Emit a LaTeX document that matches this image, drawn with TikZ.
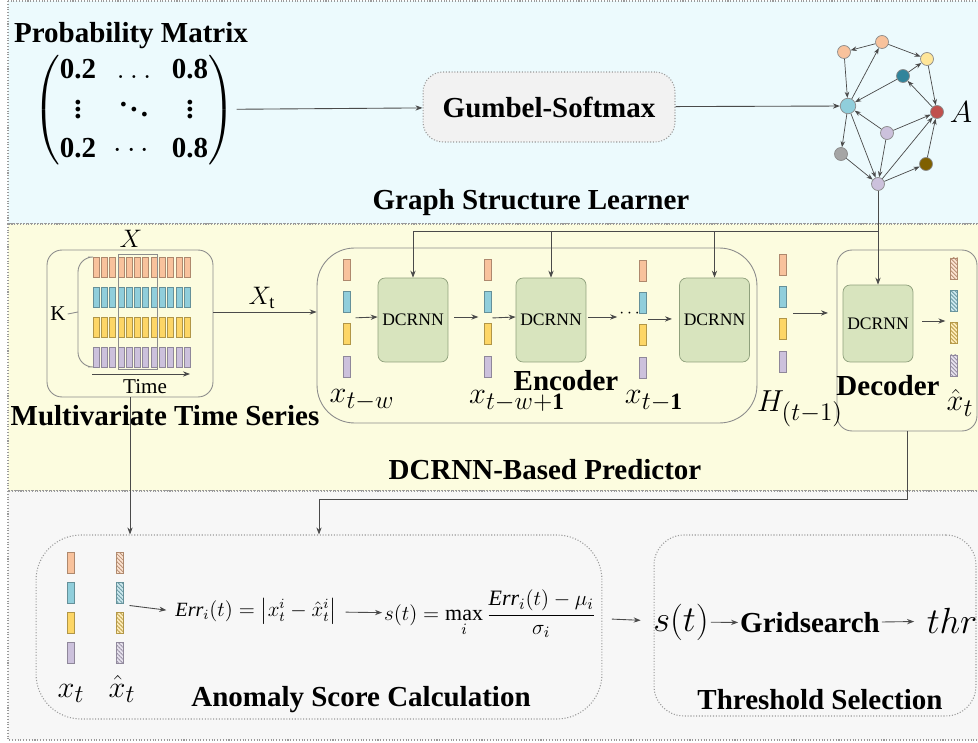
\documentclass[tikz,border=0pt]{standalone}
\usepackage{amsmath}
\usepackage{fontspec}
\setmainfont{Liberation Serif}[BoldFont={Liberation Serif Bold}]
\usetikzlibrary{arrows.meta,patterns.meta}
\definecolor{learnerbg}{HTML}{ECFAFD}
\definecolor{predictbg}{HTML}{FCFCDF}
\definecolor{scorebg}{HTML}{F7F7F7}
\definecolor{panelline}{HTML}{9A9A9A}
\definecolor{linkgray}{HTML}{4A4A4A}
\definecolor{boxline}{HTML}{8C8C8C}
\definecolor{cellfill}{HTML}{D8E4BE}
\definecolor{cellline}{HTML}{8FA07C}
\definecolor{gumbelfill}{HTML}{F2F2F2}
\definecolor{barpeach}{HTML}{F8C29C}
\definecolor{barblue}{HTML}{90CEDB}
\definecolor{baryellow}{HTML}{FDD666}
\definecolor{barpurple}{HTML}{CCC1DC}
\definecolor{gteal}{HTML}{31849B}
\definecolor{gred}{HTML}{C0504D}
\definecolor{gyellow}{HTML}{FFE699}
\definecolor{ggray}{HTML}{A5A5A5}
\definecolor{gbrown}{HTML}{7F6000}
% one column of four feature bars: style, name, centre x, top y, pitch
\newcommand{\barstack}[5]{%
  \foreach \c [count=\i from 0] in {barpeach,barblue,baryellow,barpurple}
    \draw[#1=\c] ({#3-3.5},{#4+#5*\i}) rectangle ++(7,21);
  \coordinate (#2) at (#3,{#4+1.5*#5+10.5});}

\begin{document}
\begin{tikzpicture}[
  x=0.02cm,
  y=-0.02cm,
  every node/.style={inner sep=1pt, text=black},
  panel/.style={draw=panelline, densely dotted, line width=0.6pt},
  paneltitle/.style={font=\fontsize{16.5}{19}\selectfont\bfseries},
  bigmath/.style={font=\fontsize{19}{22}\selectfont},
  midmath/.style={font=\fontsize{15}{18}\selectfont},
  formula/.style={font=\fontsize{12.5}{15}\selectfont},
  small/.style={font=\fontsize{12}{14}\selectfont},
  link/.style={draw=linkgray, line width=0.5pt, -{Stealth[length=4pt,width=3pt]}},
  gedge/.style={draw=linkgray, line width=0.4pt, -{Stealth[length=3.5pt,width=2.6pt]}},
  roundbox/.style={draw=boxline, line width=0.5pt, inner sep=0pt},
  dotbox/.style={draw=panelline, densely dotted, line width=0.6pt, inner sep=0pt},
  cell/.style={draw=cellline, fill=cellfill, rounded corners=0.14cm,
    minimum width=1.4cm, inner sep=0pt, font=\fontsize{10}{12}\selectfont},
  gnode/.style={circle, draw=boxline, line width=0.4pt, inner sep=0pt},
  bar/.style={draw=#1!70!black, fill=#1, line width=0.4pt},
  hatch/.style={draw=#1!70!black, fill=#1!45!white, line width=0.4pt,
    postaction={pattern={Lines[angle=-45,distance=1.6pt,line width=0.5pt]},
      pattern color=#1!75!black}}
]
\useasboundingbox (0,0) rectangle (978,743);

% =====================================================================
% panels
% =====================================================================
\draw[panel, fill=learnerbg] (8,1) rectangle (990,224);
\draw[panel, fill=predictbg] (8,224) rectangle (990,491);
\draw[panel, fill=scorebg] (8,491) rectangle (990,740);

% =====================================================================
% graph structure learner
% =====================================================================
\node[paneltitle] (ptitle) at (131,36) {Probability Matrix};
\node[font=\fontsize{16.5}{22}\selectfont\bfseries] (pm) at (134,110)
  {\setlength{\arraycolsep}{5pt}$\begin{pmatrix}
    \textbf{0.2} & \ldots & \textbf{0.8}\\
    \vdots & \ddots & \vdots\\
    \textbf{0.2} & \cdots & \textbf{0.8}
  \end{pmatrix}$};
\node[dotbox, fill=gumbelfill, rounded corners=0.4cm, minimum width=5.04cm,
  minimum height=1.4cm, paneltitle] (gumbel) at (549,107) {Gumbel-Softmax};

\foreach \n/\x/\y/\c/\s in {pa/882/42/barpeach/0.26, pb/844/52/barpeach/0.26,
    ye/927/59/gyellow/0.26, te/903/76/gteal/0.26, lb/848/106/barblue/0.31,
    re/937/112/gred/0.26, la/887/133/barpurple/0.26, gr/841/154/ggray/0.26,
    br/926/164/gbrown/0.26, lc/878/184/barpurple/0.26}
  \node[gnode, fill=\c, minimum size=\s cm] (\n) at (\x,\y) {};
\foreach \a/\b in {pa/pb, pa/ye, te/ye, lb/pa, pb/lb, te/lb, re/te, ye/re,
    la/lb, la/re, lb/gr, lb/lc, la/lc, gr/lc, lc/re, lc/br, br/re}
  \draw[gedge] (\a) -- (\b);
\node[bigmath] (adj) at (961,112) {$A$};

\draw[link] (pm) -- (gumbel);
\draw[link] (gumbel) -- (lb);
\node[paneltitle] (gsl) at (531,203) {Graph Structure Learner};

% =====================================================================
% DCRNN-based predictor
% =====================================================================
\node[roundbox, rounded corners=0.3cm, minimum width=3.32cm,
  minimum height=2.94cm] (ts) at (130,323.5) {};
\foreach \c [count=\r from 0] in {barpeach,barblue,baryellow,barpurple}
  \foreach \k in {0,...,11}
    \draw[bar=\c] ({93+8.3*\k},{257+30*\r}) rectangle ++(6,20);
\draw[boxline, line width=0.5pt] (118,254) rectangle (157,369);
\draw[boxline, line width=0.5pt, rounded corners=0.3cm]
  (88,257) -- (78,257) -- (78,367) -- (88,367);
\node[small] (k) at (58,314) {K};
\coordinate (kb) at (78,312);
\draw[boxline, line width=0.5pt] (k.east) -- (kb);
\coordinate (t0) at (92,374);
\coordinate (t1) at (190,374);
\draw[link] (t0) -- (t1);
\node[small] (time) at (145,387) {Time};
\node[midmath] (xall) at (131,239) {$X$};
\node[paneltitle] (mts) at (165,416) {Multivariate Time Series};

\node[roundbox, rounded corners=0.75cm, minimum width=8.8cm,
  minimum height=3.5cm] (enc) at (537,335.5) {};
\node[roundbox, rounded corners=0.3cm, minimum width=2.8cm,
  minimum height=3.62cm] (dec) at (907,340.5) {};

\node[cell, minimum height=1.68cm] (d1) at (413,320) {DCRNN};
\node[cell, minimum height=1.68cm] (d2) at (551,320) {DCRNN};
\node[cell, minimum height=1.68cm] (d3) at (714.5,320) {DCRNN};
\node[cell, minimum height=1.54cm] (dd) at (878,323.5) {DCRNN};

\barstack{bar}{c1}{347}{259}{32.3}
\barstack{bar}{c2}{487.5}{259}{32.3}
\barstack{bar}{c3}{643}{260}{32.3}
\barstack{bar}{ch}{783}{254}{32.3}
\barstack{hatch}{co}{954}{258}{32.3}

\coordinate (xin) at (0,312);
\draw[link] (ts.east |- xin) -- (enc.west |- xin);
\node[midmath] (xt) at (262,298) {$X_{\mathrm{t}}$};

\draw[link, shorten <=2pt] (c1) ++(5,0) -- (d1.west |- 0,317);
\draw[link] (d1.east |- 0,317) ++(6,0) -- ++(24,0);
\draw[link] (c2) ++(5,0) -- (d2.west |- 0,317);
\node (dots) at (631,314) {$\cdots$};
\draw[link] (d2.east |- 0,317) ++(2,0) -- (dots.west |- 0,317);
\draw[link] (c3) ++(5,0) -- ++(24,0);
\draw[link] (ch) ++(10,0) -- ++(35,0);
\draw[link] (dd.east |- 0,321) ++(9,0) -- ++(23,0);

\coordinate (bus) at (878,231);
\draw[link] (lc) -- (dd.north);
\foreach \n in {d1,d2,d3}
  \draw[link] (bus) -| (\n.north);

\node[bigmath, anchor=base] (lw) at (362,403) {$x_{t-w}$};
\node[bigmath, anchor=base] (lw1) at (517,404) {$x_{t-w+\mathbf{1}}$};
\node[bigmath, anchor=base] (l1) at (654,404) {$x_{t-\mathbf{1}}$};
\node[bigmath, anchor=base] (lh) at (800,412) {$H_{(t-1)}$};
\node[bigmath] (lhat) at (960,403) {$\hat{x}_t$};
\node[paneltitle] (enctitle) at (566,381) {Encoder};
\node[paneltitle] (dectitle) at (888,386) {Decoder};
\node[paneltitle] (dbp) at (545,470) {DCRNN-Based Predictor};

% =====================================================================
% anomaly score and threshold
% =====================================================================
\node[dotbox, rounded corners=0.9cm, minimum width=11.32cm,
  minimum height=3.68cm] (anom) at (319,627) {};
\node[dotbox, rounded corners=0.6cm, minimum width=6.44cm,
  minimum height=3.62cm] (thrbox) at (815,625.5) {};

\draw[link] (ts.south) -- (ts.south |- anom.north);
\draw[link] (dec.south) -- ++(0,68) -| (anom.north);

\barstack{bar}{bx}{71}{552}{30}
\barstack{hatch}{bh}{119.5}{552}{30}
\node[bigmath, anchor=base] (lx) at (71,697) {$x_t$};
\node[bigmath, anchor=base] (lxh) at (122,697) {$\hat{x}_t$};

\node[formula, font=\fontsize{11.5}{14}\selectfont] (err) at (256,611)
  {$\mathit{Err}_i(t)=\bigl|x_t^i-\hat{x}_t^i\bigr|$};
\node[formula] (score) at (490,614)
  {$s(t)=\max\limits_i\dfrac{\mathit{Err}_i(t)-\mu_i}{\sigma_i}$};
\draw[link, shorten >=4pt] (bh) ++(10,-2) -- (err.west);
\draw[link, shorten <=4pt] (err) -- (score);
\node[font=\fontsize{20}{24}\selectfont] (st) at (681,622) {$s(t)$};
\node[paneltitle] (grid) at (810,623) {Gridsearch};
\node[font=\fontsize{20}{24}\selectfont] (thr) at (952,621) {$thr$};
\draw[link, shorten <=8pt, shorten >=6pt] (score) -- (st);
\draw[link] (st) -- (grid);
\draw[link, shorten >=6pt] (grid) -- (thr);

\node[paneltitle] (asc) at (361,700) {Anomaly Score Calculation};
\node[paneltitle] (tsel) at (820,700) {Threshold Selection};

\end{tikzpicture}
\end{document}
